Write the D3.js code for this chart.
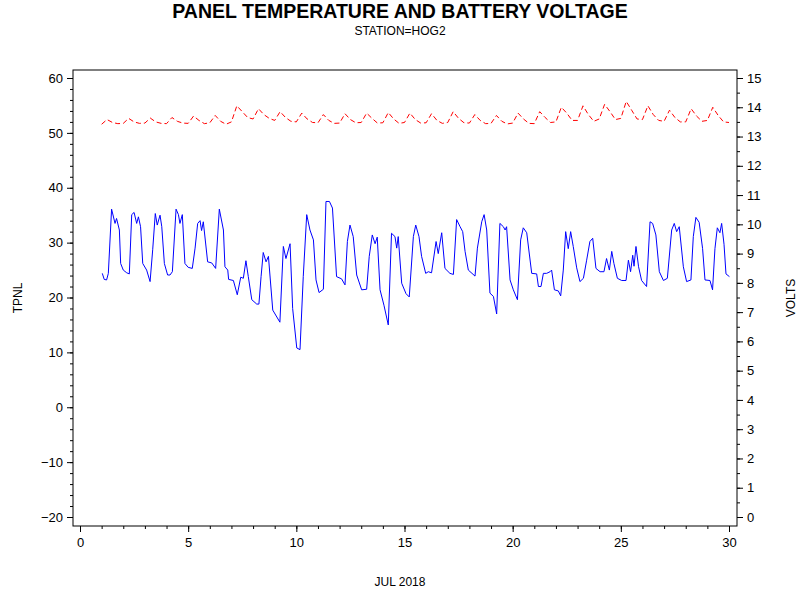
<!DOCTYPE html>
<html>
<head>
<meta charset="utf-8">
<script src="https://cdn.jsdelivr.net/npm/d3@7"></script>
<style>
  body { margin: 0; background: #fff; }
  text { font-family: Arial, "Liberation Sans", sans-serif; }
</style>
</head>
<body>
<svg id="chart" width="800" height="600"></svg>
<script>
// Panel temperature (day of July, deg)
const tpnlDays = [1.03,1.12,1.23,1.31,1.46,1.62,1.69,1.82,1.88,2.0,2.16,2.28,2.39,2.5,2.62,2.7,2.8,2.9,3.08,3.24,3.36,3.48,3.57,3.7,3.78,3.9,4.05,4.16,4.27,4.44,4.55,4.62,4.73,4.85,5.0,5.19,5.32,5.44,5.55,5.62,5.7,5.9,6.09,6.27,6.44,6.63,6.7,6.83,6.87,7.09,7.27,7.43,7.55,7.67,7.78,7.94,8.17,8.27,8.37,8.47,8.6,8.71,8.91,9.24,9.4,9.52,9.71,9.83,10.02,10.17,10.32,10.48,10.63,10.79,10.91,11.05,11.25,11.37,11.53,11.67,11.86,12.09,12.25,12.36,12.48,12.63,12.79,13.02,13.25,13.37,13.51,13.64,13.74,13.87,14.05,14.25,14.4,14.56,14.64,14.71,14.87,15.07,15.22,15.41,15.52,15.67,15.79,15.98,16.1,16.25,16.46,16.56,16.72,16.87,17.1,17.26,17.41,17.57,17.69,17.8,17.95,18.26,18.37,18.57,18.68,18.8,18.95,19.11,19.26,19.41,19.57,19.65,19.72,19.88,20.03,20.22,20.37,20.49,20.65,20.88,21.11,21.19,21.31,21.42,21.57,21.73,21.8,21.93,22.11,22.22,22.34,22.45,22.57,22.68,22.8,22.96,23.11,23.27,23.42,23.57,23.7,23.85,24.04,24.22,24.34,24.47,24.58,24.68,24.84,25.04,25.24,25.35,25.45,25.55,25.61,25.7,25.82,25.96,26.19,26.35,26.47,26.62,26.78,26.97,27.15,27.35,27.47,27.58,27.7,27.89,28.04,28.24,28.35,28.47,28.62,28.78,28.89,29.12,29.24,29.35,29.46,29.58,29.66,29.77,29.86,30.02];
const tpnlValues = [24.4,23.3,23.2,24.4,36.1,33.5,34.4,32.3,26.2,25,24.5,24.3,35.1,35.5,33.5,34.7,32.9,26.2,25,22.9,28.7,35.3,33.2,35,32.9,26.2,24.1,24.1,24.7,36.1,35.1,33.5,35.1,26.2,25.5,25.3,29,33.5,34,32.2,33.8,26.5,26.3,25.3,36.1,32.3,25.6,25,23.3,23.1,20.5,23.7,23.5,26.7,23.8,19.6,18.8,18.8,23.8,28.2,26.5,27.5,17.7,15.5,29.3,27.1,29.8,18,10.8,10.5,23.8,35.1,32.3,30.5,23.2,20.9,21.5,37.5,37.5,36.3,23.8,23.4,22.3,30.2,33.2,31.1,24.1,21.4,21.5,27.5,31.4,29.8,31,21.4,18.6,15,31.7,31.1,29,31.1,22.6,20.7,20.1,31.1,33.2,31.1,27.5,24.4,24.7,24.5,30.2,28,31.8,25.3,24.4,24.2,34.2,32.9,32,28.4,25,23.9,29,33.8,35.1,32.3,20.8,20.2,17,33.5,32.9,32.3,32.9,23.2,21.4,19.6,30.5,32.7,31.8,24.4,24.3,22,22,24.4,24.4,24.7,25,21.4,21.2,20.3,25,32,28.9,32,29.3,25.4,22.9,23.5,26.8,30.2,30.8,25.3,24.7,24.7,27.1,25,28.4,26.2,23.5,23.1,23.1,26.8,24.7,27.7,25.7,29.3,25.6,23.1,22,33.8,33.5,31.4,24.7,23.1,23.5,32.3,33.5,32,32.9,25.6,22.9,23.2,31.1,34.6,33.7,28.9,23.2,23.1,21.4,28.9,32.7,31.8,33.5,29.7,24.3,23.8];

// Battery voltage, every 6 hours from day 1.0 to day 30.0
const voltStart = 1.0;
const voltStep = 0.25;
const voltValues = [13.42,13.58,13.48,13.44, 13.45,13.62,13.50,13.45, 13.46,13.63,13.50,13.45,
  13.44,13.65,13.52,13.46, 13.45,13.70,13.55,13.44, 13.47,13.72,13.52,13.42, 13.50,14.05,13.85,13.65,
  13.60,13.95,13.75,13.62, 13.55,13.85,13.65,13.52, 13.50,13.80,13.60,13.48, 13.47,13.75,13.55,13.45,
  13.46,13.78,13.58,13.47, 13.48,13.80,13.62,13.46, 13.47,13.82,13.60,13.45, 13.48,13.80,13.58,13.46,
  13.47,13.78,13.55,13.45, 13.48,13.85,13.62,13.47, 13.46,13.75,13.55,13.44, 13.45,13.72,13.52,13.43,
  13.46,13.80,13.60,13.45, 13.44,13.85,13.65,13.48, 13.50,14.00,13.80,13.55, 13.55,14.05,13.75,13.52,
  13.60,14.10,13.85,13.58, 13.62,14.20,13.90,13.60, 13.58,14.05,13.75,13.55, 13.52,13.90,13.65,13.50,
  13.50,13.95,13.70,13.52, 13.55,14.00,13.72,13.50, 13.48];

const xTicks = [0,5,10,15,20,25,30];

const svg = d3.select('#chart');
const frameLeft = 73, frameRight = 737, frameTop = 70, frameBottom = 526;

const x = d3.scaleLinear().domain([0, 30]).range([80, 729]);
const yL = d3.scaleLinear().domain([-20, 60]).range([517, 78]);
const yR = d3.scaleLinear().domain([0, 15]).range([517, 78]);

// Titles
svg.append('text').attr('x', 400).attr('y', 18).attr('text-anchor', 'middle')
    .style('font-size', '19.5px').style('font-weight', 'bold').text('PANEL TEMPERATURE AND BATTERY VOLTAGE');
svg.append('text').attr('x', 400).attr('y', 35).attr('text-anchor', 'middle')
    .style('font-size', '12px').text('STATION=HOG2');

// Frame
svg.append('rect').attr('x', frameLeft).attr('y', frameTop)
    .attr('width', frameRight - frameLeft).attr('height', frameBottom - frameTop)
    .attr('fill', 'none').attr('stroke', '#000');

// Axes
svg.append('g').attr('transform', `translate(${frameLeft},0)`)
    .call(d3.axisLeft(yL).tickValues(d3.range(-20, 61, 10)).tickSize(6).tickPadding(4));
svg.append('g').attr('transform', `translate(${frameLeft},0)`)
    .call(d3.axisLeft(yL).tickValues(d3.range(-20, 61, 2)).tickSize(3).tickFormat(''));
svg.append('g').attr('transform', `translate(${frameRight},0)`)
    .call(d3.axisRight(yR).tickValues(d3.range(0, 16, 1)).tickSize(6).tickPadding(4));
svg.append('g').attr('transform', `translate(${frameRight},0)`)
    .call(d3.axisRight(yR).tickValues(d3.range(0, 15.1, 0.5)).tickSize(3).tickFormat(''));
svg.append('g').attr('transform', `translate(0,${frameBottom})`)
    .call(d3.axisBottom(x).tickValues(xTicks).tickSize(6).tickPadding(6));
svg.append('g').attr('transform', `translate(0,${frameBottom})`)
    .call(d3.axisBottom(x).tickValues(d3.range(0, 31, 1)).tickSize(3).tickFormat(''));
svg.selectAll('.domain').remove();
svg.selectAll('.tick text').style('font-size', '13px').attr('fill', '#000');
svg.selectAll('.tick line').attr('stroke', '#000');

// Axis labels
svg.append('text').attr('x', 400).attr('y', 586).attr('text-anchor', 'middle')
    .style('font-size', '12px').text('JUL 2018');
svg.append('text').attr('transform', 'translate(22,298) rotate(-90)').attr('text-anchor', 'middle')
    .style('font-size', '12px').text('TPNL');
svg.append('text').attr('transform', 'translate(795,298) rotate(-90)').attr('text-anchor', 'middle')
    .style('font-size', '12px').text('VOLTS');

// Lines
const tpnl = tpnlDays.map((d, i) => [d, tpnlValues[i]]);
svg.append('path').datum(tpnl)
    .attr('fill', 'none').attr('stroke', '#0000ff').attr('stroke-width', 1)
    .attr('d', d3.line().x(d => x(d[0])).y(d => yL(d[1])));

const volts = voltValues.map((v, i) => [voltStart + i * voltStep, v]);
svg.append('path').datum(volts)
    .attr('fill', 'none').attr('stroke', '#ff0000').attr('stroke-width', 1)
    .attr('stroke-dasharray', '5,3')
    .attr('d', d3.line().x(d => x(d[0])).y(d => yR(d[1])));
</script>
</body>
</html>
